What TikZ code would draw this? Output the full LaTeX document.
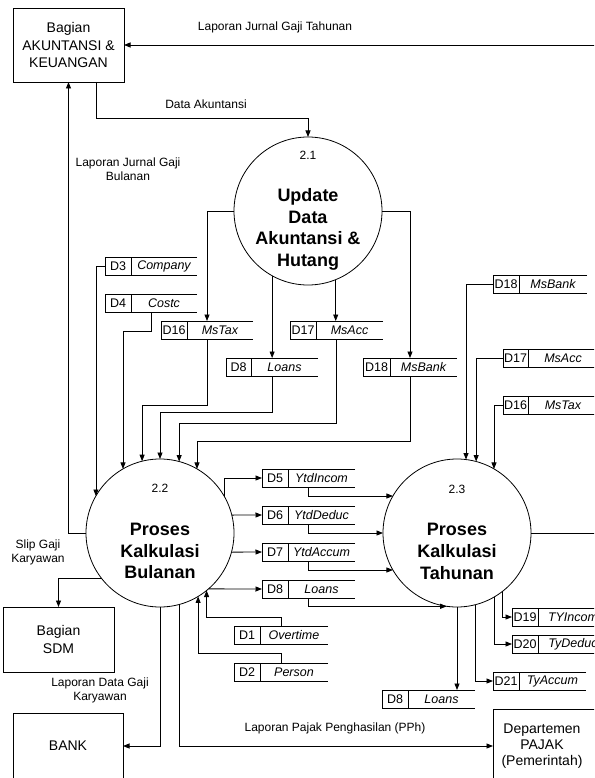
\documentclass[tikz,border=0pt]{standalone}
\usepackage{fontspec}
\setmainfont{Liberation Sans}
\usetikzlibrary{arrows.meta,calc}

\tikzset{
  line/.style={draw, line width=0.8pt},
  flow/.style={line, -{Triangle[length=6.5pt,width=5pt]}},
  proc/.style={circle, draw, line width=0.8pt, minimum size=148pt, inner sep=0pt, outer sep=0pt},
  pnum/.style={inner sep=0pt, font=\fontsize{12}{14}\selectfont},
  ptitle/.style={inner sep=0pt, align=center, font=\fontsize{18}{21.7}\selectfont\bfseries},
  ext/.style={rectangle, draw, line width=0.8pt, inner sep=0pt, outer sep=0pt, align=center, font=\fontsize{14}{17.5}\selectfont},
  exttext/.style={inner sep=0pt, align=center, font=\fontsize{14}{16}\selectfont},
  flowlabel/.style={inner sep=0pt, align=center, font=\fontsize{12}{14}\selectfont},
  storeframe/.style={rectangle, draw=none, inner sep=0pt, outer sep=0pt, minimum height=18pt},
  storeid/.style={inner sep=0pt, font=\fontsize{12.5}{14}\selectfont},
  storename/.style={inner sep=0pt, font=\fontsize{12.5}{14}\selectfont\itshape},
}

% data store: name, left, top, id-cell width, total width, id, store name
\newcommand{\datastore}[7]{%
  \node[storeframe, minimum width=#5pt, anchor=north west] (#1) at (#2,#3) {};
  \draw[line] (#1.north east) -- (#1.north west) -- (#1.south west) -- (#1.south east);
  \draw[line] ($(#1.north west)+(#4,0)$) -- ($(#1.south west)+(#4,0)$);
  \node[storeid] (#1-id) at ($(#1.west)+({#4/2},0)$) {#6};
  \node[storename] (#1-name) at ($(#1.west)+({#4+(#5-#4)/2},0)$) {#7};
}

\begin{document}
\begin{tikzpicture}[x=1pt,y=-1pt]
\clip (0,0) rectangle (594,778);
\fill[white] (0,0) rectangle (594,778);

% external entities
\node[ext, minimum width=111pt, minimum height=74pt] (akun) at (68.5,45) {Bagian\\AKUNTANSI \&\\KEUANGAN};
\node[ext, minimum width=111pt, minimum height=65pt, font=\fontsize{14}{18}\selectfont] (sdm) at (58.5,639.5) {Bagian\\SDM};
\node[ext, minimum width=110pt, minimum height=66pt] (bank) at (68,746) {BANK};
\node[ext, minimum width=117pt, minimum height=74pt] (pajak) at (551.5,746) {};
\node[exttext] (pajaktxt) at (542,746) {Departemen\\PAJAK\\(Pemerintah)};

% processes
\node[proc] (c21) at (308,211) {};
\node[pnum] (c21num) at (308,155) {2.1};
\node[ptitle] (c21txt) at (308,229.5) {Update\\Data\\Akuntansi \&\\Hutang};

\node[proc] (c22) at (160,533) {};
\node[pnum] (c22num) at (160,488) {2.2};
\node[ptitle] (c22txt) at (160,551) {Proses\\Kalkulasi\\Bulanan};

\node[proc] (c23) at (457,533) {};
\node[pnum] (c23num) at (457,489) {2.3};
\node[ptitle] (c23txt) at (457,551.5) {Proses\\Kalkulasi\\Tahunan};

% data stores
\datastore{d3}{105}{257}{26}{92}{D3}{Company}
\datastore{d4}{105}{294}{26}{92}{D4}{Costc}
\datastore{d16}{161}{321}{26}{92}{D16}{MsTax}
\datastore{d17}{290}{321}{26}{93}{D17}{MsAcc}
\datastore{d8a}{226}{358}{25}{92}{D8}{Loans}
\datastore{d18}{363}{358}{27}{94}{D18}{MsBank}

\datastore{d18r}{493}{275}{26}{94}{D18}{MsBank}
\datastore{d17r}{503}{349}{25}{95}{D17}{MsAcc}
\datastore{d16r}{503}{396}{25}{95}{D16}{MsTax}

\datastore{d5}{262}{469}{26}{93}{D5}{YtdIncom}
\datastore{d6}{262}{506}{26}{93}{D6}{YtdDeduc}
\datastore{d7}{262}{543}{26}{93}{D7}{YtdAccum}
\datastore{d8b}{262}{580}{26}{93}{D8}{Loans}

\datastore{d1}{234}{626}{26}{94}{D1}{Overtime}
\datastore{d2}{234}{663}{26}{94}{D2}{Person}

\datastore{d19}{512}{608}{26}{96}{D19}{TYIncom}
\datastore{d20}{512}{635}{26}{96}{D20}{TyDeduc}
\datastore{d21}{493}{672}{26}{93}{D21}{TyAccum}
\datastore{d8c}{382}{690}{26}{93}{D8}{Loans}

% flows around 2.1
\draw[flow] (akun.south) ++(27.5,0) -- ++(0,36) -| (c21.north);
\draw[flow] (c21.west) -| (d16.north);
\draw[flow] (c21.east) -| (d18.north);
\draw[flow] (c21.-119) -- (c21.-119 |- d8a.north);
\draw[flow] (c21.-68) -- (c21.-68 |- d17.north);

% flows into 2.2
\draw[flow] (d3.west) -| (c22.150);
\draw[flow] (d4.south) -- ++(0,19) -| (c22.120);
\draw[flow] (d16.south) -- ++(0,66) -| (c22.104);
\draw[flow] (d8a.south) -- ++(0,36) -| (c22.90);
\draw[flow] (d17.south) -- ++(0,84) -| (c22.75);
\draw[flow] (d18.south) -- ++(0,65) -| (c22.60);
\draw[flow] (d1.north) -- ++(0,-9) -| (c22.-51);
\draw[flow] (d2.north) -- ++(0,-10) -| (c22.-59);

% flows out of 2.2
\draw[flow] (c22.west) -| (akun.south);
\draw[flow] (c22.218) -| (sdm.north);
\draw[flow] (c22.south) |- (bank.east);
\draw[flow] (c22.-75) |- (pajak.west);
\draw[flow] (c22.29) |- (d5.west);
\draw[flow] (c22.14) -- (d6.west);
\draw[flow] (c22.-15) -- (d7.west);
\draw[flow] (c22.-49) -- (d8b.west);

% flows into 2.3
\draw[flow] (d5.south) |- (c23.150);
\draw[flow] (d6.south) |- (c23.west);
\draw[flow] (d7.south) |- (c23.210);
\draw[flow] (d8b.south) |- (c23.-98);
\draw[flow] (d18r.west) -| (c23.83);
\draw[flow] (d17r.west) -| (c23.75);
\draw[flow] (d16r.west) -| (c23.60);

% flows out of 2.3
\draw[flow] (c23.south) -- (c23.south |- d8c.north);
\draw[flow] (c23.-76) |- (d21.west);
\draw[flow] (c23.-60) |- (d20.west);
\draw[flow] (c23.-52) |- (d19.west);
\draw[flow] (c23.east) -- ++(80,0) |- (akun.east);

% flow labels
\node[flowlabel] (lbtahun) at (275,27) {Laporan Jurnal Gaji Tahunan};
\node[flowlabel] (lbdata) at (206,104) {Data Akuntansi};
\node[flowlabel] (lbbulan) at (128,169) {Laporan Jurnal Gaji\\Bulanan};
\node[flowlabel] (lbslip) at (38,552) {Slip Gaji\\Karyawan};
\node[flowlabel] (lbbank) at (100,690) {Laporan Data Gaji\\Karyawan};
\node[flowlabel] (lbpph) at (335,728) {Laporan Pajak Penghasilan (PPh)};
\end{tikzpicture}
\end{document}
